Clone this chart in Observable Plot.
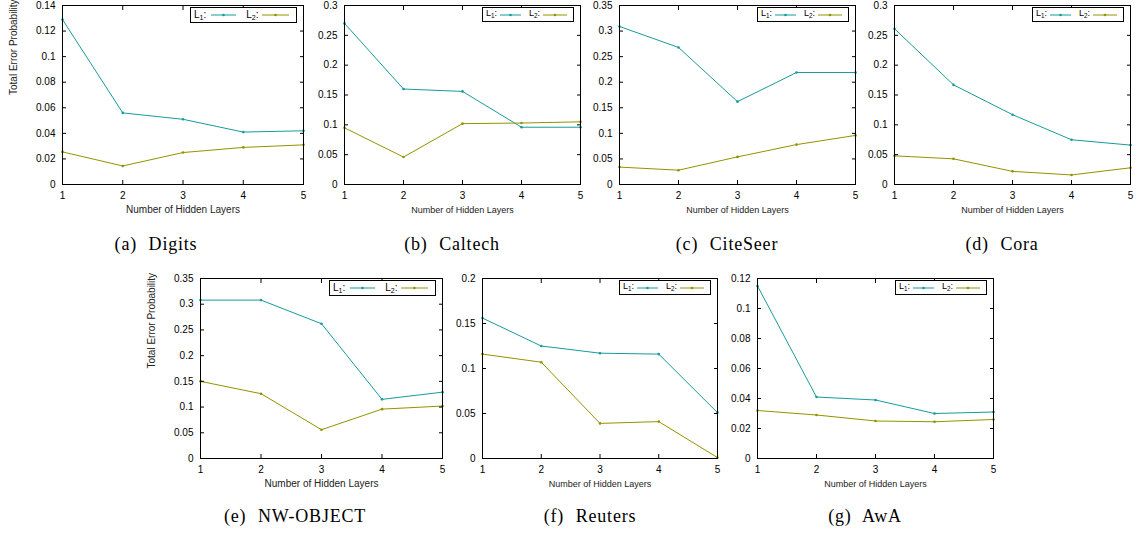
<!DOCTYPE html>
<html><head><meta charset="utf-8">
<script src="https://cdn.jsdelivr.net/npm/d3@7"></script>
<script src="https://cdn.jsdelivr.net/npm/@observablehq/plot@0.6"></script>
<style>
body{margin:0;background:#fff;}
#fig{position:relative;width:1137px;height:535px;overflow:hidden;font-family:"Liberation Sans",Arial,sans-serif;}
.panel{position:absolute;}
.panel svg{max-width:none !important;}
.cap{position:absolute;font-family:"Liberation Serif","Times New Roman",serif;font-size:18px;letter-spacing:0.8px;word-spacing:0.5px;line-height:1;transform:translateX(-50%);white-space:pre;}
.leg{position:absolute;border:1px solid #000;background:#fff;box-sizing:border-box;display:flex;align-items:center;font-family:"Liberation Sans",Arial,sans-serif;line-height:1;white-space:nowrap;}
.leg sub{font-size:70%;vertical-align:-2px;}
.leg svg{display:block;}
</style>
</head><body><div id="fig"></div>
<script>
// ---------- data ----------
const layers = [1, 2, 3, 4, 5];
const seriesNames = ["L1", "L2"];
const xLabel = "Number of Hidden Layers";
const yLabel = "Total Error Probability";

const digitsL1  = [0.129, 0.056, 0.051, 0.041, 0.042];
const digitsL2  = [0.0255, 0.0145, 0.025, 0.029, 0.031];
const caltechL1 = [0.270, 0.160, 0.156, 0.096, 0.096];
const caltechL2 = [0.095, 0.046, 0.102, 0.103, 0.105];
const citeseerL1 = [0.309, 0.268, 0.162, 0.219, 0.219];
const citeseerL2 = [0.034, 0.028, 0.054, 0.078, 0.096];
const coraL1 = [0.261, 0.167, 0.117, 0.075, 0.066];
const coraL2 = [0.048, 0.043, 0.022, 0.016, 0.028];
const nwobjectL1 = [0.308, 0.308, 0.262, 0.115, 0.129];
const nwobjectL2 = [0.150, 0.126, 0.056, 0.096, 0.102];
const reutersL1 = [0.156, 0.125, 0.117, 0.116, 0.051];
const reutersL2 = [0.116, 0.107, 0.039, 0.041, 0.001];
const awaL1 = [0.115, 0.041, 0.039, 0.030, 0.031];
const awaL2 = [0.032, 0.029, 0.025, 0.0245, 0.026];

const captions = ["(a)  Digits", "(b)  Caltech", "(c)  CiteSeer", "(d)  Cora", "(e)  NW-OBJECT", "(f)  Reuters", "(g)  AwA"];
const yMaxes = [0.14, 0.3, 0.35, 0.3, 0.35, 0.2, 0.12];
const ySteps = [0.02, 0.05, 0.05, 0.05, 0.05, 0.05, 0.02];
const l1Series = [digitsL1, caltechL1, citeseerL1, coraL1, nwobjectL1, reutersL1, awaL1];
const l2Series = [digitsL2, caltechL2, citeseerL2, coraL2, nwobjectL2, reutersL2, awaL2];

// ---------- layout & style ----------
const colors = ["#179b9b", "#939300"];
const layout = [
  {l: 62,  r: 303,  t: 5,   b: 184, wide: true,  ylab: true,  cx: 156, cy: 235},
  {l: 344, r: 580,  t: 5,   b: 184, wide: false, ylab: false, cx: 452, cy: 235},
  {l: 619, r: 855,  t: 5,   b: 184, wide: false, ylab: false, cx: 727, cy: 235},
  {l: 894, r: 1130, t: 5,   b: 184, wide: false, ylab: false, cx: 1002, cy: 235},
  {l: 200, r: 442,  t: 278, b: 458, wide: true,  ylab: true,  cx: 295, cy: 507},
  {l: 482, r: 717,  t: 278, b: 458, wide: false, ylab: false, cx: 590, cy: 507},
  {l: 757, r: 993,  t: 278, b: 458, wide: false, ylab: false, cx: 865, cy: 507}
];

const fig = document.getElementById("fig");
const fmt = d => String(+d.toFixed(4));

function legendLine(color, w) {
  return `<svg width="${w}" height="6"><line x1="0" y1="3" x2="${w}" y2="3" stroke="${color}" stroke-width="1"/><circle cx="${w/2}" cy="3" r="1.3" fill="${color}"/></svg>`;
}

layout.forEach((p, i) => {
  const mL = 60, mR = 12, mT = 12, mB = 45;
  const fw = p.r - p.l, fh = p.b - p.t;
  const rows = [];
  layers.forEach((x, j) => {
    rows.push({x, y: l1Series[i][j], s: seriesNames[0]});
  });
  layers.forEach((x, j) => {
    rows.push({x, y: l2Series[i][j], s: seriesNames[1]});
  });
  const yTicks = d3.range(0, yMaxes[i] + ySteps[i] / 2, ySteps[i]);
  const labFs = p.wide ? 10 : 9;
  const marks = [
    Plot.line(rows, {x: "x", y: "y", z: "s", stroke: "s", strokeWidth: 1}),
    Plot.dot(rows, {x: "x", y: "y", fill: "s", r: 1.3}),
    Plot.axisX(layers, {anchor: "bottom", tickSize: 0, tickPadding: 7, tickFormat: d => String(d), label: null, fontSize: 10}),
    Plot.axisX(layers, {anchor: "bottom", tickSize: -4, fill: "none", label: null}),
    Plot.axisX(layers, {anchor: "top", tickSize: -4, fill: "none", label: null}),
    Plot.axisY(yTicks, {anchor: "left", tickSize: 0, tickPadding: 7, tickFormat: fmt, label: null, fontSize: 10}),
    Plot.axisY(yTicks, {anchor: "left", tickSize: -4, fill: "none", label: null}),
    Plot.axisY(yTicks, {anchor: "right", tickSize: -4, fill: "none", label: null}),
    Plot.frame({stroke: "#000", strokeWidth: 1}),
    Plot.text([xLabel], {frameAnchor: "bottom", dy: 28, text: d => d, fontSize: labFs, fill: "#222"})
  ];
  if (p.ylab) marks.push(Plot.text([yLabel], {frameAnchor: "left", dx: -49, rotate: -90, text: d => d, fontSize: 10, fill: "#222"}));
  const W = fw + mL + mR, H = fh + mT + mB;
  const plot = Plot.plot({
    width: W, height: H,
    marginLeft: mL, marginRight: mR, marginTop: mT, marginBottom: mB,
    style: {background: "transparent", overflow: "visible", maxWidth: "none", fontFamily: '"Liberation Sans", Arial, sans-serif', fontSize: "10px", color: "#000"},
    x: {domain: [1, 5]},
    y: {domain: [0, yMaxes[i]]},
    color: {domain: seriesNames, range: colors},
    marks
  });
  const wrap = document.createElement("div");
  wrap.className = "panel";
  wrap.style.left = (p.l - mL) + "px";
  wrap.style.top = (p.t - mT) + "px";
  wrap.style.width = W + "px";
  wrap.style.height = H + "px";
  wrap.appendChild(plot);
  fig.appendChild(wrap);

  // legend
  const leg = document.createElement("div");
  leg.className = "leg";
  const lw = p.wide ? 107 : 92;
  leg.style.width = lw + "px";
  leg.style.height = (p.wide ? 16 : 15) + "px";
  leg.style.left = (p.r - 6 - lw) + "px";
  leg.style.top = (p.t + 2) + "px";
  leg.style.fontSize = (p.wide ? 10 : 9) + "px";
  leg.style.paddingLeft = "3px";
  const g1 = p.wide ? 5 : 3, w1 = p.wide ? 25 : 21, g2 = p.wide ? 10 : 8, w2 = p.wide ? 27 : 24;
  leg.innerHTML =
    `<span>L<sub>1</sub>:</span><span style="width:${g1}px"></span>${legendLine(colors[0], w1)}<span style="width:${g2}px"></span>` +
    `<span>L<sub>2</sub>:</span><span style="width:3px"></span>${legendLine(colors[1], w2)}`;
  fig.appendChild(leg);

  // caption
  const cap = document.createElement("div");
  cap.className = "cap";
  cap.textContent = captions[i];
  cap.style.left = p.cx + "px";
  cap.style.top = p.cy + "px";
  fig.appendChild(cap);
});
</script>
</body></html>
